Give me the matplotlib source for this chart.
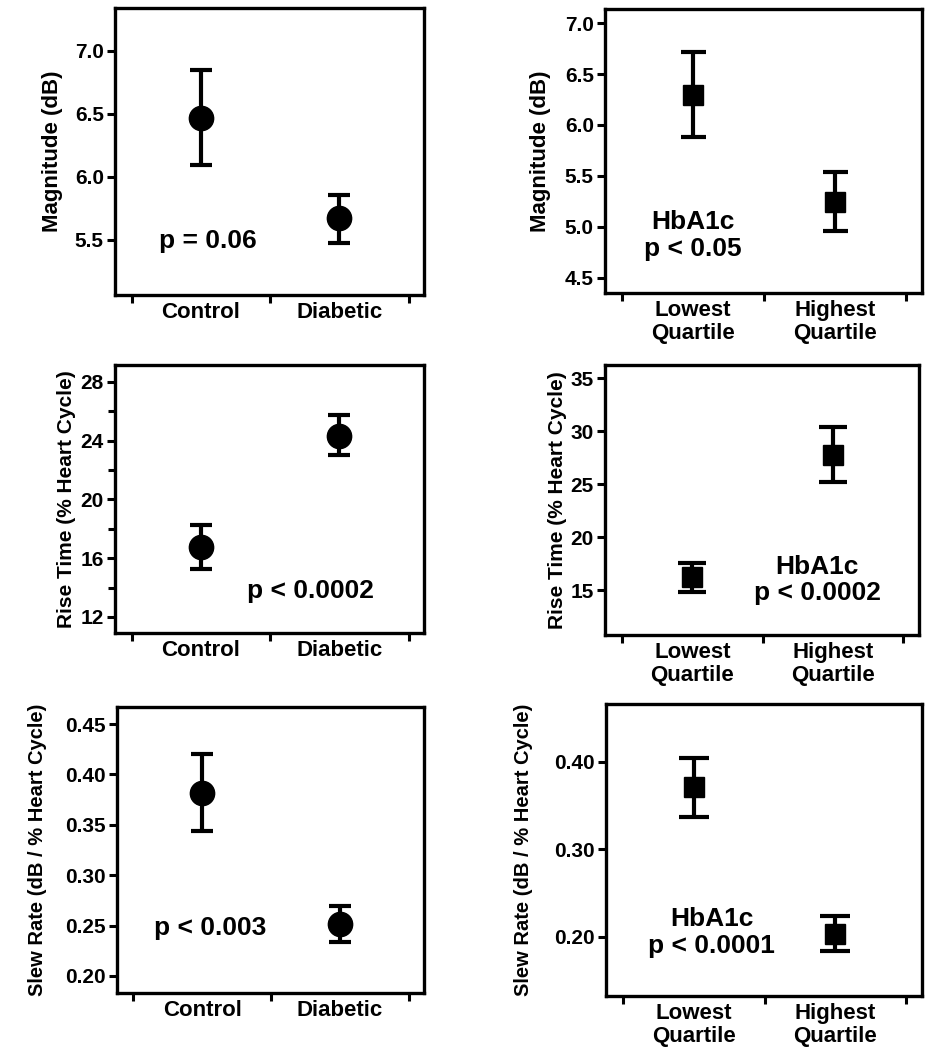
# %% imports
import matplotlib
matplotlib.use('Agg')
import matplotlib.pyplot as plt
from matplotlib.ticker import FixedLocator, MultipleLocator, FormatStrFormatter

plt.rcParams['font.family'] = ['Liberation Sans', 'DejaVu Sans']
plt.rcParams['font.weight'] = 'bold'
plt.rcParams['axes.labelweight'] = 'bold'

# %% data
groups_dm = ['Control', 'Diabetic']
groups_q = ['Lowest\nQuartile', 'Highest\nQuartile']

mag_dm = [6.47, 5.67]
mag_dm_lo = [6.095, 5.47]
mag_dm_hi = [6.85, 5.857]

mag_q = [6.294, 5.248]
mag_q_lo = [5.885, 4.954]
mag_q_hi = [6.72, 5.54]

rise_dm = [16.75, 24.34]
rise_dm_lo = [15.28, 23.05]
rise_dm_hi = [18.28, 25.77]

rise_q = [16.2, 27.77]
rise_q_lo = [14.78, 25.25]
rise_q_hi = [17.52, 30.4]

slew_dm = [0.382, 0.2514]
slew_dm_lo = [0.3443, 0.2341]
slew_dm_hi = [0.4206, 0.2696]

slew_q = [0.3707, 0.203]
slew_q_lo = [0.337, 0.1837]
slew_q_hi = [0.4046, 0.2241]

ylab_mag = 'Magnitude (dB)'
ylab_rise = 'Rise Time (% Heart Cycle)'
ylab_slew = 'Slew Rate (dB / % Heart Cycle)'

# %% panel helper


def panel(ax, groups, mean, lo, hi, marker, ms, cap, ylim, ystep, fmt, ylabel, ylab_size, ylab_x,
          note, note_xy, minor=None):
    x = list(range(len(groups)))
    err = [[m - l for m, l in zip(mean, lo)], [h - m for m, h in zip(mean, hi)]]
    ax.errorbar(x, mean, yerr=err, fmt=marker, color='black', ms=ms, elinewidth=3,
                capsize=cap, capthick=3, zorder=3)
    ax.set_xlim(-0.62, 1.61)
    ax.set_ylim(*ylim)
    ax.yaxis.set_major_locator(MultipleLocator(ystep))
    ax.yaxis.set_major_formatter(FormatStrFormatter(fmt))
    if minor is not None:
        ax.yaxis.set_minor_locator(MultipleLocator(minor))
        ax.tick_params(axis='y', which='minor', length=5, width=2.2)
    # category dividers as major ticks, names on minor ticks
    ax.xaxis.set_major_locator(FixedLocator([-0.5, 0.5, 1.5]))
    ax.xaxis.set_major_formatter(plt.NullFormatter())
    ax.xaxis.set_minor_locator(FixedLocator(x))
    ax.set_xticklabels(groups, minor=True, fontsize=16, fontweight='bold', linespacing=1.15)
    ax.tick_params(axis='x', which='minor', length=0, pad=5)
    ax.tick_params(axis='both', which='major', length=6, width=2.2, labelsize=15, pad=2)
    for sp in ax.spines.values():
        sp.set_linewidth(2.4)
    ax.set_ylabel(ylabel, fontsize=ylab_size, fontweight='bold')
    ax.yaxis.set_label_coords(ylab_x, 0.5)
    ax.text(note_xy[0], note_xy[1], note, transform=ax.transAxes, ha='center', va='center',
            fontsize=19, fontweight='bold', linespacing=1.15)


# %% figure
fig = plt.figure(figsize=(9.44, 10.5), dpi=100)
ax1 = fig.add_axes([0.1218, 0.719, 0.3273, 0.2733])
ax2 = fig.add_axes([0.6409, 0.721, 0.3358, 0.2705])
ax3 = fig.add_axes([0.1218, 0.3971, 0.3273, 0.2552])
ax4 = fig.add_axes([0.6409, 0.3952, 0.3326, 0.2571])
ax5 = fig.add_axes([0.1239, 0.0543, 0.3252, 0.2724])
ax6 = fig.add_axes([0.6419, 0.0514, 0.3347, 0.2781])

panel(ax1, groups_dm, mag_dm, mag_dm_lo, mag_dm_hi, 'o', 17.5, 7.7, (5.06, 7.34), 0.5, '%.1f',
      ylab_mag, 16, -0.168, 'p = 0.06', (0.301, 0.19))
panel(ax2, groups_q, mag_q, mag_q_lo, mag_q_hi, 's', 15, 9, (4.35, 7.14), 0.5, '%.1f',
      ylab_mag, 16, -0.170, 'HbA1c\np < 0.05', (0.278, 0.201))
panel(ax3, groups_dm, rise_dm, rise_dm_lo, rise_dm_hi, 'o', 17.5, 7.7, (10.9, 29.15), 4, '%d',
      ylab_rise, 15, -0.126, 'p < 0.0002', (0.634, 0.157), minor=2)
panel(ax4, groups_q, rise_q, rise_q_lo, rise_q_hi, 's', 15, 10, (10.75, 36.25), 5, '%d',
      ylab_rise, 15, -0.121, 'HbA1c\np < 0.0002', (0.675, 0.204))
panel(ax5, groups_dm, slew_dm, slew_dm_lo, slew_dm_hi, 'o', 17.5, 8, (0.183, 0.467), 0.05, '%.2f',
      ylab_slew, 14.5, -0.228, 'p < 0.003', (0.303, 0.227))
panel(ax6, groups_q, slew_q, slew_q_lo, slew_q_hi, 's', 15, 11, (0.132, 0.466), 0.1, '%.2f',
      ylab_slew, 14.5, -0.231, 'HbA1c\np < 0.0001', (0.335, 0.219))

plt.savefig('out.png', dpi=100)
